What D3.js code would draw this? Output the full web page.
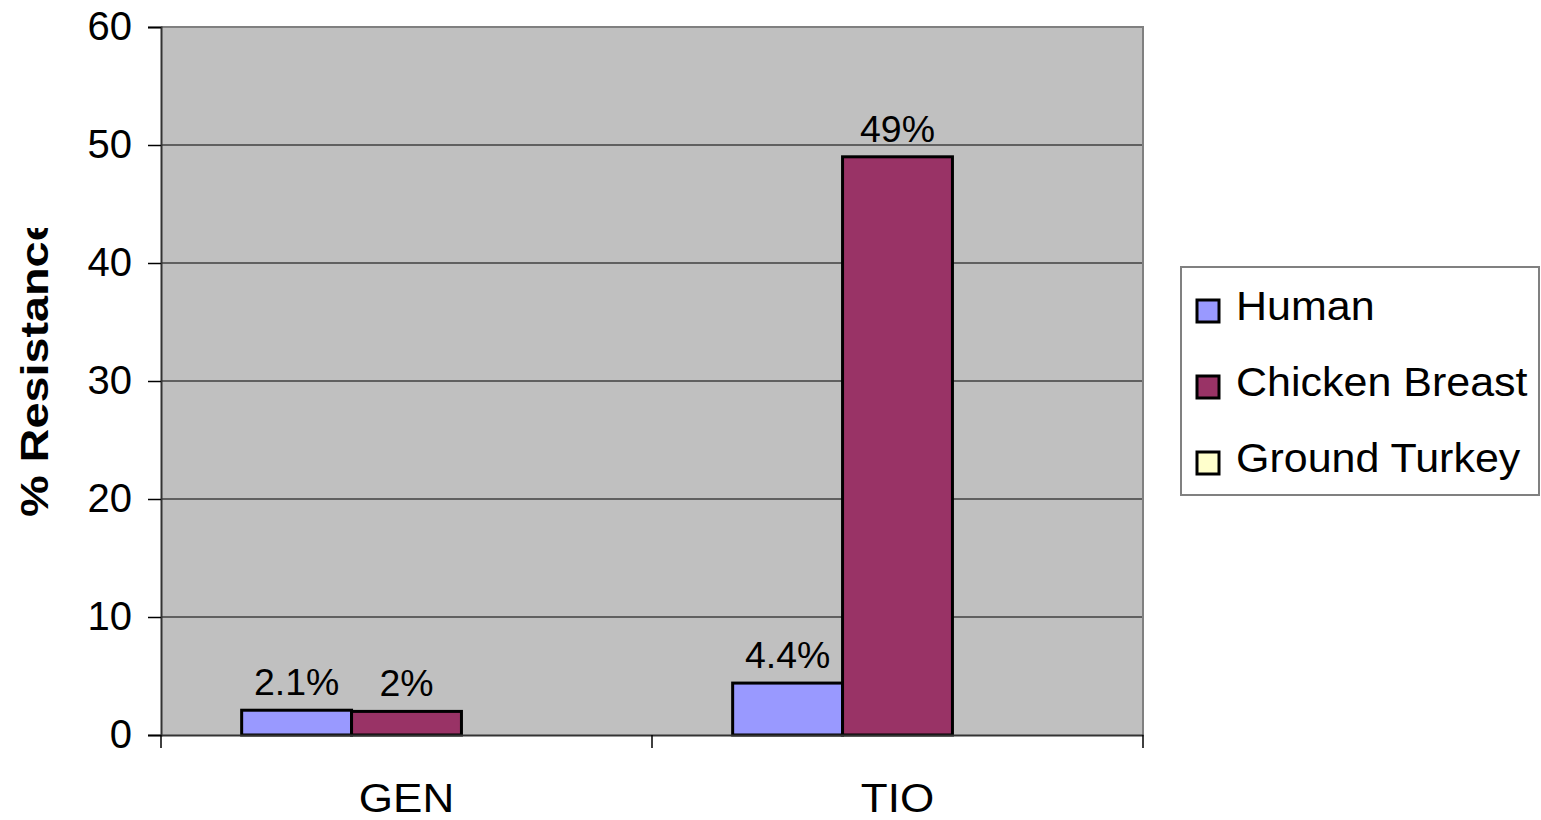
<!DOCTYPE html>
<html>
<head>
<meta charset="utf-8">
<script src="https://cdn.jsdelivr.net/npm/d3@7"></script>
<style>
  body { margin: 0; background: #fff; }
  text { font-family: Arial, "Liberation Sans", sans-serif; fill: #000; }
</style>
</head>
<body>
<svg id="chart" width="1541" height="820"></svg>
<script>
// Chart data
const categories = ["GEN", "TIO"];
const seriesNames = ["Human", "Chicken Breast", "Ground Turkey"];
const human = [2.1, 4.4];
const chicken = [2, 49];
const turkey = [null, null];
const humanLabels = ["2.1%", "4.4%"];
const chickenLabels = ["2%", "49%"];
const yTicks = [0, 10, 20, 30, 40, 50, 60];
const colors = ["#9999FF", "#993366", "#FFFFCC"];

const seriesValues = [human, chicken, turkey];
const seriesLabels = [humanLabels, chickenLabels, [null, null]];

const svg = d3.select("#chart");

// Plot area bounds
const plotLeft = 161, plotRight = 1143, plotTop = 27, plotBottom = 735;

let x0 = d3.scaleBand()
    .domain(categories)
    .range([plotLeft, plotRight])
    .paddingInner(0)
    .paddingOuter(0);

let x1 = d3.scaleBand()
    .domain(seriesNames)
    .range([0, x0.bandwidth()])
    .paddingInner(0)
    .paddingOuter(0.734);

let y = d3.scaleLinear()
    .domain([0, 60])
    .range([plotBottom, plotTop]);

// Plot background
svg.append("rect")
    .attr("x", plotLeft).attr("y", plotTop)
    .attr("width", plotRight - plotLeft).attr("height", plotBottom - plotTop)
    .attr("fill", "#C0C0C0");

// Gridlines
svg.append("g")
    .selectAll("line")
    .data(yTicks.filter(d => d > 0 && d < 60))
    .join("line")
    .attr("x1", plotLeft).attr("x2", plotRight)
    .attr("y1", d => y(d)).attr("y2", d => y(d))
    .attr("stroke", "#000")
    .attr("stroke-width", 1);

// Top & right border (gray)
svg.append("path")
    .attr("d", `M${plotLeft},${y(60)}H${plotRight}V${plotBottom}`)
    .attr("fill", "none")
    .attr("stroke", "#808080")
    .attr("stroke-width", 2);

// Bars
categories.forEach((cat, i) => {
    seriesNames.forEach((s, j) => {
        let v = seriesValues[j][i];
        if (v == null) return;
        let bx = x0(cat) + x1(s);
        svg.append("rect")
            .attr("x", bx)
            .attr("y", y(v))
            .attr("width", x1.bandwidth())
            .attr("height", y(0) - y(v))
            .attr("fill", colors[j])
            .attr("stroke", "#000")
            .attr("stroke-width", 3);
        let lab = seriesLabels[j][i];
        if (lab) {
            svg.append("text")
                .attr("transform", `translate(${bx + x1.bandwidth() / 2},${y(v) - 15}) scale(1.04,1)`)
                .attr("text-anchor", "middle")
                .style("font-size", "36px")
                .text(lab);
        }
    });
});

// Y axis
let yAxis = d3.axisLeft(y).tickValues(yTicks).tickSize(13).tickPadding(16);
let gy = svg.append("g")
    .attr("transform", `translate(${plotLeft},0)`)
    .call(yAxis);
gy.select(".domain").attr("stroke", "#333").attr("stroke-width", 2);
gy.selectAll(".tick line").attr("stroke", "#000").attr("stroke-width", 1.5);
gy.selectAll(".tick text")
    .style("font-size", "40px")
    .style("font-family", "Arial, 'Liberation Sans', sans-serif")
    .attr("fill", "#000");

// X axis
let gx = svg.append("g")
    .attr("transform", `translate(0,${plotBottom})`)
    .call(d3.axisBottom(x0).tickSize(0).tickPadding(49));
gx.select(".domain").attr("stroke", "#333").attr("stroke-width", 2);
gx.selectAll(".tick text")
    .style("font-size", "40px")
    .style("font-family", "Arial, 'Liberation Sans', sans-serif")
    .attr("transform", "scale(1.1,1)")
    .attr("fill", "#000");

// Category separator ticks
let sepTicks = [x0.range()[0]].concat(categories.map(c => x0(c) + x0.bandwidth()));
svg.append("g")
    .selectAll("line")
    .data(sepTicks)
    .join("line")
    .attr("x1", d => d).attr("x2", d => d)
    .attr("y1", plotBottom).attr("y2", plotBottom + 13)
    .attr("stroke", "#000")
    .attr("stroke-width", 1.5);

// Y axis title (clipped at the top as in the original)
svg.append("clipPath").attr("id", "titleClip")
    .append("rect").attr("x", 0).attr("y", 228).attr("width", 80).attr("height", 400);
svg.append("g")
    .attr("clip-path", "url(#titleClip)")
    .append("text")
    .attr("transform", "translate(48,517) rotate(-90) scale(1.2,1)")
    .attr("text-anchor", "start")
    .style("font-size", "39px")
    .style("font-weight", "bold")
    .text("% Resistance");

// Legend
let legend = svg.append("g").attr("transform", "translate(1181,267)");
legend.append("rect")
    .attr("width", 358).attr("height", 228)
    .attr("fill", "#fff")
    .attr("stroke", "#808080")
    .attr("stroke-width", 2);

let items = legend.selectAll("g.item")
    .data(seriesNames)
    .join("g")
    .attr("class", "item")
    .attr("transform", (d, i) => `translate(16,${33 + i * 76})`);

items.append("rect")
    .attr("width", 22).attr("height", 22)
    .attr("fill", (d, i) => colors[i])
    .attr("stroke", "#000")
    .attr("stroke-width", 3);

items.append("text")
    .attr("transform", "translate(39,20) scale(1.075,1)")
    .style("font-size", "40px")
    .text(d => d);
</script>
</body>
</html>
